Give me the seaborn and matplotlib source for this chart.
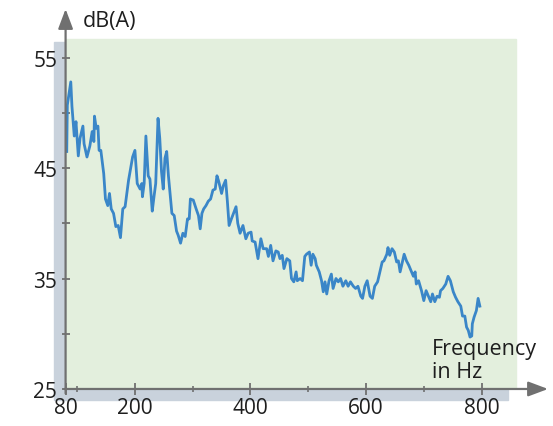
import matplotlib
matplotlib.use("Agg")
import matplotlib.pyplot as plt
import seaborn as sns
from matplotlib.patches import Rectangle

# frequency (Hz) and level dB(A)
freq = [82, 83, 89, 91, 95, 98, 102, 105, 110, 112,
        117, 122, 126, 129, 130, 133, 136, 138, 141, 146,
        149, 153, 156, 159, 163, 167, 171, 175, 179, 183,
        189, 192, 196, 200, 204, 209, 212, 213, 216, 219,
        223, 226, 230, 233, 236, 240, 243, 246, 249, 252,
        255, 258, 264, 268, 272, 275, 279, 283, 287, 291,
        294, 296, 301, 306, 310, 313, 316, 319, 323, 327,
        331, 335, 339, 342, 345, 350, 353, 357, 360, 363,
        367, 372, 375, 378, 382, 387, 392, 396, 401, 403,
        408, 413, 418, 422, 428, 431, 435, 439, 444, 448,
        451, 455, 458, 463, 468, 471, 475, 479, 481, 486,
        490, 494, 497, 502, 505, 508, 512, 514, 519, 523,
        526, 529, 532, 536, 540, 543, 548, 552, 556, 560,
        565, 569, 573, 578, 582, 586, 591, 594, 598, 602,
        607, 611, 615, 620, 624, 628, 631, 636, 638, 641,
        645, 649, 653, 656, 659, 663, 666, 670, 674, 678,
        682, 685, 687, 691, 696, 700, 704, 708, 712, 715,
        719, 723, 727, 729, 733, 738, 742, 746, 751, 755,
        759, 764, 767, 771, 774, 777, 780, 783, 784, 787,
        791, 794, 797]

db = [46.5, 50.7, 52.8, 50.6, 47.9, 49.2, 46.1, 47.7, 48.8, 47.2,
      46.0, 47.0, 48.3, 47.4, 49.7, 48.6, 48.8, 46.6, 46.6, 44.5,
      42.2, 41.6, 42.7, 41.3, 40.9, 39.7, 39.8, 38.7, 41.3, 41.5,
      43.9, 44.8, 46.0, 46.6, 43.6, 43.1, 43.6, 42.4, 43.6, 47.9,
      44.3, 44.0, 41.1, 42.4, 43.6, 49.5, 47.7, 44.7, 43.1, 45.9,
      46.5, 44.3, 40.9, 40.7, 39.3, 38.9, 38.2, 39.1, 38.8, 40.4,
      40.4, 42.2, 42.1, 41.3, 40.7, 39.5, 40.9, 41.3, 41.6, 42.0,
      42.2, 43.0, 43.1, 44.3, 43.8, 42.7, 43.4, 43.9, 42.0, 39.8,
      40.4, 41.1, 41.5, 40.0, 39.1, 39.8, 38.6, 39.1, 39.2, 38.4,
      38.3, 36.8, 38.6, 37.7, 37.7, 37.0, 38.0, 36.6, 37.5, 37.4,
      36.8, 37.1, 35.9, 36.8, 36.6, 35.0, 34.7, 35.6, 34.8, 35.0,
      34.8, 37.0, 37.2, 37.4, 36.2, 37.2, 36.8, 36.2, 35.6, 34.8,
      33.8, 34.7, 33.6, 34.8, 35.4, 34.1, 35.0, 34.7, 35.0, 34.3,
      34.8, 34.3, 34.7, 34.3, 34.1, 34.3, 33.4, 33.2, 34.3, 34.8,
      33.4, 33.2, 34.3, 34.7, 35.6, 36.5, 36.6, 37.2, 37.8, 37.1,
      37.7, 37.4, 36.5, 36.6, 35.6, 36.5, 37.2, 36.6, 36.2, 35.7,
      35.2, 35.6, 34.5, 34.8, 33.9, 33.0, 33.9, 33.4, 32.9, 33.6,
      32.9, 33.4, 33.3, 33.9, 34.1, 34.5, 35.2, 34.8, 33.8, 33.3,
      32.9, 32.5, 31.6, 31.6, 30.6, 30.3, 29.7, 29.8, 30.9, 31.5,
      32.1, 33.2, 32.5]

xticks = [80, 200, 400, 600, 800]
xminor = [100, 300, 500, 700]
yticks = [25, 35, 45, 55]
yminor = [30, 40, 50]

plt.rcParams['font.family'] = ['Open Sans', 'DejaVu Sans']
axis_col = '#707070'
text_col = '#1e1e1e'

fig = plt.figure(figsize=(5.53, 4.27), dpi=100)
ax = fig.add_axes([0.1186, 0.0867, 0.8724, 0.8899])
ax.set_xlim(80, 915)
ax.set_ylim(25, 59.4)
ax.patch.set_visible(False)
for s in ax.spines.values():
    s.set_visible(False)

# shadow + green panel
ax.add_patch(Rectangle((60, 24.0), 785, 32.45, color='#c9d2dc', clip_on=False, zorder=0))
ax.add_patch(Rectangle((80, 25), 780, 31.7, color='#e3efdd', zorder=1))

sns.lineplot(x=freq, y=db, ax=ax, sort=False, color='#3a86c8', linewidth=2.0, zorder=3)

# axes with arrow heads
arrow = dict(arrowstyle='-|>,head_length=1.2,head_width=0.45', color=axis_col, lw=1.6,
             shrinkA=0, shrinkB=0, mutation_scale=10)
ax.annotate('', xy=(80, 59.4), xytext=(80, 24.6), arrowprops=arrow, annotation_clip=False, zorder=4)
ax.annotate('', xy=(915, 25), xytext=(78, 25), arrowprops=arrow, annotation_clip=False, zorder=4)

ax.set_xticks(xticks)
ax.set_xticks(xminor, minor=True)
ax.set_yticks(yticks)
ax.set_yticks(yminor, minor=True)
ax.tick_params(axis='x', which='major', direction='inout', length=8, width=1.3, color=axis_col,
               labelsize=15, labelcolor=text_col, pad=2)
ax.tick_params(axis='x', which='minor', direction='inout', length=5, width=1.2, color=axis_col)
ax.tick_params(axis='y', which='both', direction='inout', length=6, width=1.3, color=axis_col,
               labelsize=15, labelcolor=text_col, pad=3)

ax.text(110, 58.4, 'dB(A)', fontsize=15.5, color=text_col, ha='left', va='center')
ax.text(714, 29.6, 'Frequency\nin Hz', fontsize=15.5, color=text_col, ha='left', va='top',
        linespacing=1.1, zorder=5)

fig.savefig('out.png', dpi=100)
